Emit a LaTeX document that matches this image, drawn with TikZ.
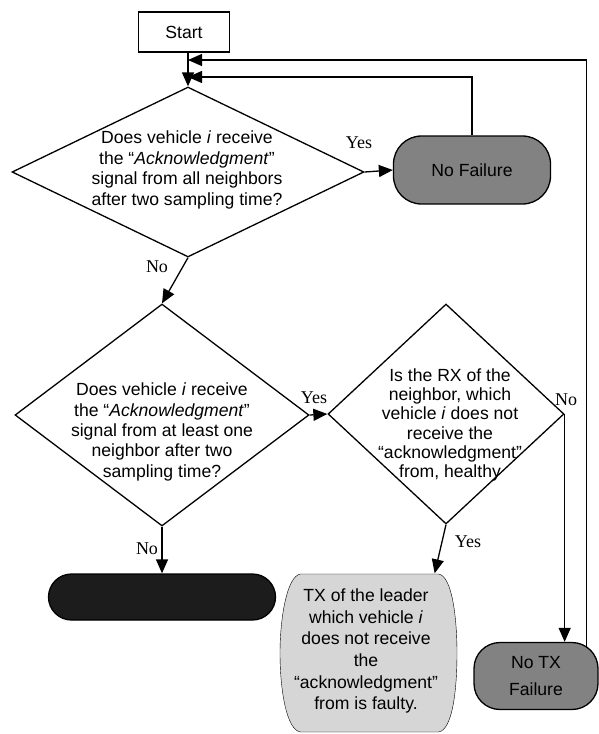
\documentclass[tikz,border=0pt]{standalone}
\usepackage{fontspec}
\setmainfont{Liberation Sans}
\newfontfamily\labelfont{Liberation Serif}
\usetikzlibrary{shapes.geometric,arrows.meta,backgrounds}

\definecolor{midfill}{HTML}{828282}
\definecolor{darkfill}{HTML}{1C1C1C}
\definecolor{lightfill}{HTML}{D6D6D6}

\begin{document}
\begin{tikzpicture}[x=1pt,y=-1pt,
  line width=1.3pt,
  arr/.style={-{Triangle[length=14pt,width=12pt]}},
  dia/.style={draw, diamond, inner sep=0pt},
  body/.style={font=\fontsize{17.6}{20.4}\selectfont, align=center, inner sep=0pt},
  lbl/.style={font=\labelfont\fontsize{18}{20}\selectfont, inner sep=0pt},
  termbox/.style={draw, inner sep=0pt, align=center,
    font=\fontsize{17.6}{27}\selectfont}
]
\useasboundingbox (0,0) rectangle (599,734);

% start box
\node[termbox, minimum width=91pt, minimum height=40pt] (start) at (184,32) {Start};

% first decision
\node[dia, minimum width=352pt, minimum height=170pt] (d1) at (188,172) {};
\node[body] (d1t) at (187,170) {Does vehicle \textit{i} receive\\
  the “\textit{Acknowledgment}”\\ signal from all neighbors\\ after two sampling time?};

% second decision
\node[dia, minimum width=294pt, minimum height=222pt] (d2) at (162,415) {};
\node[body] (d2t) at (162,432) {Does vehicle \textit{i} receive\\
  the “\textit{Acknowledgment}”\\ signal from at least one\\ neighbor after two\\ sampling time?};

% third decision
\node[dia, minimum width=236pt, minimum height=220pt] (d3) at (446,414) {};
\node[body, font=\fontsize{17.6}{19.3}\selectfont] (d3t) at (450,425) {Is the RX of the\\ neighbor, which\\
  vehicle \textit{i} does not\\ receive the\\ “acknowledgment”\\ from, healthy};

% terminal states
\node[termbox, fill=midfill, rounded corners=28pt, minimum width=157pt, minimum height=68pt] (nf) at (472,170) {No Failure};
\node[termbox, fill=midfill, rounded corners=26pt, minimum width=124pt, minimum height=67pt] (ntx) at (536,676) {No TX\\ Failure};
\node[termbox, fill=darkfill, rounded corners=23pt, minimum width=227pt, minimum height=46pt] (bk) at (162,597) {};

% faulty-transmitter outcome with bulging sides
\node[minimum width=177pt, minimum height=158pt, inner sep=0pt] (tx) at (368.5,653) {};
\node[body, font=\fontsize{17.6}{21.7}\selectfont] (txt) at (366,651) {TX of the leader\\
  which vehicle \textit{i}\\ does not receive\\ the\\ “acknowledgment”\\ from is faulty.};
\begin{scope}[on background layer, shift={(tx.center)}]
  \draw[fill=lightfill] (-68,-79) -- (70,-79)
    .. controls (84,-77) and (88.5,-33) .. (88.5,0)
    .. controls (88.5,37) and (84,77) .. (70,79) -- (-68,79)
    .. controls (-82,77) and (-88.5,37) .. (-88.5,0)
    .. controls (-88.5,-33) and (-82,-77) .. (-68,-79) -- cycle;
\end{scope}

% return junctions above the first decision
\coordinate (j1) at (188,60);
\coordinate (j2) at (188,77);

% connectors
\draw[arr] (start.south -| d1.north) -- (d1.north);
\draw[arr] (d1.east) -- (nf.west);
\draw[arr] (nf.north) |- (j2);
\draw[arr] ([xshift=-12pt,yshift=-6pt]ntx.north east) |- (j1);
\draw[arr] (d1.south) -- (d2.north);
\draw[arr] (d2.east) -- (d3.west);
\draw[arr] (d2.south) -- (bk.north);
\draw[arr] (d3.south) -- ([xshift=-23pt]tx.north east);
\draw[arr] (d3.east) -- (d3.east |- ntx.north);

% branch labels
\node[lbl] (y1) at (359,143) {Yes};
\node[lbl] (n1) at (157,267) {No};
\node[lbl] (y2) at (314,398) {Yes};
\node[lbl] (n2) at (147,549) {No};
\node[lbl] (y3) at (468,542) {Yes};
\node[lbl] (n3) at (566,400) {No};
\end{tikzpicture}
\end{document}
